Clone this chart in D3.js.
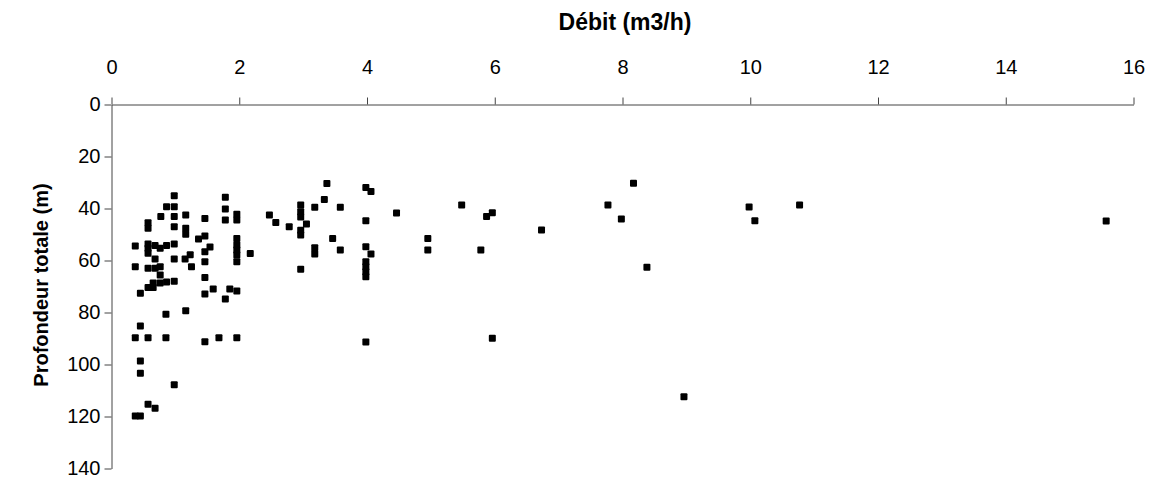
<!DOCTYPE html>
<html>
<head>
<meta charset="utf-8">
<script src="https://cdn.jsdelivr.net/npm/d3@7"></script>
<style>
  html, body { margin: 0; padding: 0; background: #fff; }
  svg { display: block; font-family: "Liberation Sans", Arial, sans-serif; }
</style>
</head>
<body>
<svg id="chart" width="1156" height="479"></svg>
<script>
// Débit (m3/h) of each borehole
const debit = [
  0.38, 0.38, 0.38, 0.38,
  0.46, 0.46, 0.46, 0.46, 0.46,
  0.58, 0.58, 0.58, 0.58, 0.58, 0.58, 0.58, 0.58, 0.58,
  0.66, 0.66,
  0.69, 0.69, 0.69, 0.69,
  0.77, 0.77, 0.77, 0.77, 0.78,
  0.87, 0.87, 0.87, 0.86, 0.86,
  0.99, 0.99, 0.99, 0.99, 0.99, 0.99, 0.99, 0.99,
  1.17, 1.17, 1.17, 1.16, 1.17, 1.24, 1.26, 1.37,
  1.47, 1.47, 1.47, 1.47, 1.47, 1.47, 1.47,
  1.55, 1.60, 1.69,
  1.79, 1.79, 1.79, 1.79, 1.86,
  1.97, 1.97, 1.97, 1.97, 1.97, 1.97, 1.97, 1.97, 1.97,
  2.18, 2.48, 2.58, 2.79,
  2.97, 2.97, 2.97, 2.97, 2.97, 2.97, 3.06,
  3.19, 3.19, 3.19, 3.34, 3.38, 3.47, 3.59, 3.59,
  3.99, 4.07, 3.99, 3.99, 4.07, 3.99, 3.99, 3.99, 3.99, 3.99,
  4.47, 4.96, 4.96,
  5.49, 5.79, 5.88, 5.97, 5.97, 6.74,
  7.78, 7.99, 8.18, 8.39, 8.97,
  9.99, 10.08, 10.78, 15.58
];

// Profondeur totale (m) of each borehole, same order
const profondeur = [
  54.6, 62.6, 89.9, 120,
  72.8, 85.4, 98.8, 103.6, 120,
  45.7, 47.8, 53.8, 55.5, 57.4, 63.2, 70.6, 89.9, 115.5,
  68.8, 70.6,
  54.4, 59.6, 63.2, 117,
  55.5, 62.6, 65.8, 68.8, 43.3,
  39.5, 54.4, 68.5, 80.9, 89.9,
  35.3, 39.5, 43.3, 47.2, 53.8, 59.6, 68.2, 108,
  42.7, 47.8, 50.1, 59.6, 79.5, 58, 62.6, 51.9,
  44, 50.8, 56.8, 60.7, 66.7, 73.1, 91.4,
  55, 71.2, 89.9,
  35.9, 40.4, 44.6, 75, 71.2,
  42.4, 44.6, 51.7, 54.2, 56.2, 58.1, 60.7, 71.9, 89.9,
  57.5, 42.7, 45.6, 47.2,
  38.8, 41.4, 43.5, 48.6, 50.4, 63.6, 46.2,
  39.7, 55.3, 57.7, 36.7, 30.6, 51.7, 39.7, 56.2,
  32.1, 33.7, 44.9, 54.9, 57.7, 60.7, 62.6, 64.5, 66.4, 91.5,
  41.9, 51.7, 56.2,
  38.8, 56.2, 43.3, 41.8, 90.1, 48.5,
  38.8, 44.2, 30.5, 62.8, 112.6,
  39.6, 44.9, 38.8, 45
];

const xTicks = [0, 2, 4, 6, 8, 10, 12, 14, 16];
const yTicks = [0, 20, 40, 60, 80, 100, 120, 140];
const xTitle = "Débit (m3/h)";
const yTitle = "Profondeur totale (m)";

const svg = d3.select("#chart");
const plotLeft = 111, plotRight = 1133, plotTop = 104, plotBottom = 468;

const x = d3.scaleLinear().domain([0, 16]).range([plotLeft, plotRight]);
const y = d3.scaleLinear().domain([0, 140]).range([plotTop, plotBottom]);

const axisColor = "#444";
const tickFont = "20px";

// x axis along the top edge
const gx = svg.append("g")
  .attr("transform", `translate(0.5,${plotTop + 0.5})`)
  .call(d3.axisTop(x).tickValues(xTicks).tickFormat(d3.format("d"))
    .tickSize(7).tickSizeOuter(0).tickPadding(24));

// y axis, depth increasing downward
const gy = svg.append("g")
  .attr("transform", `translate(${plotLeft + 0.5},0.5)`)
  .call(d3.axisLeft(y).tickValues(yTicks).tickFormat(d3.format("d"))
    .tickSize(7).tickSizeOuter(0).tickPadding(4));

[gx, gy].forEach(g => {
  g.selectAll("path.domain").attr("stroke", axisColor).attr("stroke-width", 1);
  g.selectAll(".tick line").attr("stroke", axisColor).attr("stroke-width", 1);
  g.selectAll(".tick text")
    .attr("fill", "#000")
    .style("font-size", tickFont)
    .style("font-family", '"Liberation Sans", Arial, sans-serif');
});

// axis titles
svg.append("text")
  .attr("x", (plotLeft + plotRight) / 2 + 3)
  .attr("y", 30)
  .attr("text-anchor", "middle")
  .style("font-size", "23px")
  .style("font-weight", "bold")
  .text(xTitle);

svg.append("text")
  .attr("transform", `translate(48,${(plotTop + plotBottom) / 2 - 1}) rotate(-90)`)
  .attr("text-anchor", "middle")
  .style("font-size", "20px")
  .style("font-weight", "bold")
  .text(yTitle);

// square markers
const size = 7;
const points = debit.map((d, i) => ({ q: d, p: profondeur[i] }));
svg.append("g")
  .selectAll("rect")
  .data(points)
  .join("rect")
  .attr("x", d => x(d.q) - size / 2)
  .attr("y", d => y(d.p) - size / 2)
  .attr("width", size)
  .attr("height", size)
  .attr("rx", 1)
  .attr("fill", "#000");
</script>
</body>
</html>
